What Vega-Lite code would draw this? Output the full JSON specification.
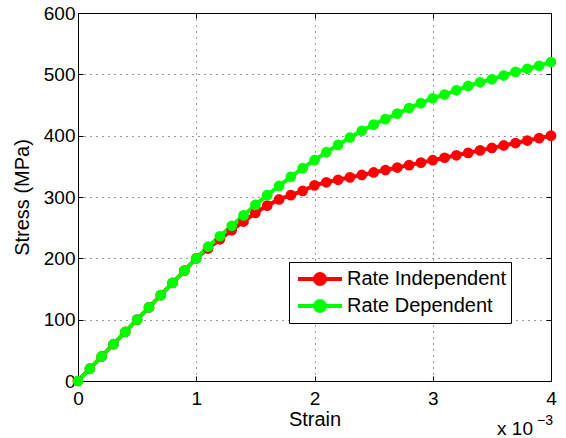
{
  "$schema": "https://vega.github.io/schema/vega-lite/v6.json",
  "width": 473,
  "height": 368,
  "autosize": {"type": "none"},
  "padding": {"left": 78, "top": 13, "right": 15, "bottom": 57},
  "background": "white",
  "config": {
    "font": "Liberation Sans",
    "view": {"stroke": null},
    "axis": {
      "domainColor": "black",
      "domainWidth": 1,
      "tickColor": "black",
      "tickSize": -5,
      "labelFontSize": 19,
      "labelColor": "black",
      "labelFlush": false,
      "titleFontSize": 20,
      "titleFontWeight": "normal",
      "titleColor": "black",
      "gridColor": "#333333",
      "gridDash": [1, 5],
      "gridOpacity": 1
    }
  },
  "data": {
    "values": [
      {"strain": 0.0, "stress": 0, "series": "Rate Independent"},
      {"strain": 0.1, "stress": 20, "series": "Rate Independent"},
      {"strain": 0.2, "stress": 40, "series": "Rate Independent"},
      {"strain": 0.3, "stress": 60, "series": "Rate Independent"},
      {"strain": 0.4, "stress": 80, "series": "Rate Independent"},
      {"strain": 0.5, "stress": 100, "series": "Rate Independent"},
      {"strain": 0.6, "stress": 120, "series": "Rate Independent"},
      {"strain": 0.7, "stress": 140, "series": "Rate Independent"},
      {"strain": 0.8, "stress": 160, "series": "Rate Independent"},
      {"strain": 0.9, "stress": 180, "series": "Rate Independent"},
      {"strain": 1.0, "stress": 200, "series": "Rate Independent"},
      {"strain": 1.1, "stress": 216, "series": "Rate Independent"},
      {"strain": 1.2, "stress": 231, "series": "Rate Independent"},
      {"strain": 1.3, "stress": 246, "series": "Rate Independent"},
      {"strain": 1.4, "stress": 260, "series": "Rate Independent"},
      {"strain": 1.5, "stress": 274, "series": "Rate Independent"},
      {"strain": 1.6, "stress": 286, "series": "Rate Independent"},
      {"strain": 1.7, "stress": 296, "series": "Rate Independent"},
      {"strain": 1.8, "stress": 303, "series": "Rate Independent"},
      {"strain": 1.9, "stress": 310, "series": "Rate Independent"},
      {"strain": 2.0, "stress": 319, "series": "Rate Independent"},
      {"strain": 2.1, "stress": 324, "series": "Rate Independent"},
      {"strain": 2.2, "stress": 328, "series": "Rate Independent"},
      {"strain": 2.3, "stress": 332, "series": "Rate Independent"},
      {"strain": 2.4, "stress": 336, "series": "Rate Independent"},
      {"strain": 2.5, "stress": 340, "series": "Rate Independent"},
      {"strain": 2.6, "stress": 344, "series": "Rate Independent"},
      {"strain": 2.7, "stress": 348, "series": "Rate Independent"},
      {"strain": 2.8, "stress": 352, "series": "Rate Independent"},
      {"strain": 2.9, "stress": 356, "series": "Rate Independent"},
      {"strain": 3.0, "stress": 360, "series": "Rate Independent"},
      {"strain": 3.1, "stress": 364, "series": "Rate Independent"},
      {"strain": 3.2, "stress": 368, "series": "Rate Independent"},
      {"strain": 3.3, "stress": 372, "series": "Rate Independent"},
      {"strain": 3.4, "stress": 376, "series": "Rate Independent"},
      {"strain": 3.5, "stress": 380, "series": "Rate Independent"},
      {"strain": 3.6, "stress": 384, "series": "Rate Independent"},
      {"strain": 3.7, "stress": 388, "series": "Rate Independent"},
      {"strain": 3.8, "stress": 392, "series": "Rate Independent"},
      {"strain": 3.9, "stress": 396, "series": "Rate Independent"},
      {"strain": 4.0, "stress": 400, "series": "Rate Independent"},
      {"strain": 0.0, "stress": 0, "series": "Rate Dependent"},
      {"strain": 0.1, "stress": 20, "series": "Rate Dependent"},
      {"strain": 0.2, "stress": 40, "series": "Rate Dependent"},
      {"strain": 0.3, "stress": 60, "series": "Rate Dependent"},
      {"strain": 0.4, "stress": 80, "series": "Rate Dependent"},
      {"strain": 0.5, "stress": 100, "series": "Rate Dependent"},
      {"strain": 0.6, "stress": 120, "series": "Rate Dependent"},
      {"strain": 0.7, "stress": 140, "series": "Rate Dependent"},
      {"strain": 0.8, "stress": 160, "series": "Rate Dependent"},
      {"strain": 0.9, "stress": 180, "series": "Rate Dependent"},
      {"strain": 1.0, "stress": 200, "series": "Rate Dependent"},
      {"strain": 1.1, "stress": 219, "series": "Rate Dependent"},
      {"strain": 1.2, "stress": 236, "series": "Rate Dependent"},
      {"strain": 1.3, "stress": 253, "series": "Rate Dependent"},
      {"strain": 1.4, "stress": 270, "series": "Rate Dependent"},
      {"strain": 1.5, "stress": 287, "series": "Rate Dependent"},
      {"strain": 1.6, "stress": 303, "series": "Rate Dependent"},
      {"strain": 1.7, "stress": 318, "series": "Rate Dependent"},
      {"strain": 1.8, "stress": 333, "series": "Rate Dependent"},
      {"strain": 1.9, "stress": 347, "series": "Rate Dependent"},
      {"strain": 2.0, "stress": 360, "series": "Rate Dependent"},
      {"strain": 2.1, "stress": 373, "series": "Rate Dependent"},
      {"strain": 2.2, "stress": 385, "series": "Rate Dependent"},
      {"strain": 2.3, "stress": 397, "series": "Rate Dependent"},
      {"strain": 2.4, "stress": 408, "series": "Rate Dependent"},
      {"strain": 2.5, "stress": 418, "series": "Rate Dependent"},
      {"strain": 2.6, "stress": 427, "series": "Rate Dependent"},
      {"strain": 2.7, "stress": 436, "series": "Rate Dependent"},
      {"strain": 2.8, "stress": 445, "series": "Rate Dependent"},
      {"strain": 2.9, "stress": 453, "series": "Rate Dependent"},
      {"strain": 3.0, "stress": 461, "series": "Rate Dependent"},
      {"strain": 3.1, "stress": 467, "series": "Rate Dependent"},
      {"strain": 3.2, "stress": 474, "series": "Rate Dependent"},
      {"strain": 3.3, "stress": 481, "series": "Rate Dependent"},
      {"strain": 3.4, "stress": 487, "series": "Rate Dependent"},
      {"strain": 3.5, "stress": 492, "series": "Rate Dependent"},
      {"strain": 3.6, "stress": 498, "series": "Rate Dependent"},
      {"strain": 3.7, "stress": 504, "series": "Rate Dependent"},
      {"strain": 3.8, "stress": 509, "series": "Rate Dependent"},
      {"strain": 3.9, "stress": 514, "series": "Rate Dependent"},
      {"strain": 4.0, "stress": 520, "series": "Rate Dependent"}
    ]
  },
  "layer": [
    {
      "mark": {"type": "line", "strokeWidth": 4, "point": {"filled": true, "size": 115, "opacity": 1}},
      "encoding": {
        "x": {
          "field": "strain", "type": "quantitative",
          "scale": {"domain": [0, 4], "nice": false, "zero": false},
          "axis": {"values": [0, 1, 2, 3, 4], "format": "d", "title": "Strain", "grid": true, "labelPadding": 13, "titlePadding": 1}
        },
        "y": {
          "field": "stress", "type": "quantitative",
          "scale": {"domain": [0, 600], "nice": false},
          "axis": {"values": [0, 100, 200, 300, 400, 500, 600], "title": "Stress (MPa)", "grid": true, "labelPadding": 8, "titlePadding": 11}
        },
        "color": {
          "field": "series", "type": "nominal",
          "scale": {"domain": ["Rate Independent", "Rate Dependent"], "range": ["#ff0000", "#00ff00"]},
          "legend": {
            "orient": "none",
            "legendX": 211,
            "legendY": 249,
            "title": null,
            "symbolType": "M-2,0L2,0M0.45,0A0.45,0.45,0,1,1,-0.45,0A0.45,0.45,0,1,1,0.45,0",
            "symbolSize": 484,
            "symbolStrokeWidth": 4,
            "symbolOffset": 14,
            "labelOffset": 14,
            "padding": 4,
            "rowPadding": 1,
            "strokeColor": "black",
            "fillColor": "white",
            "labelFontSize": 20,
            "labelColor": "black",
            "encode": {
              "symbols": {"update": {"fill": {"scale": "color", "field": "value"}, "stroke": {"scale": "color", "field": "value"}, "opacity": {"value": 1}}}
            }
          }
        }
      }
    },
    {
      "mark": {"type": "point", "opacity": 0},
      "encoding": {
        "x": {"field": "strain", "type": "quantitative", "axis": {"orient": "top", "values": [0, 1, 2, 3, 4], "labels": false, "title": null, "grid": false}},
        "y": {"field": "stress", "type": "quantitative", "axis": {"orient": "right", "values": [0, 100, 200, 300, 400, 500, 600], "labels": false, "title": null, "grid": false}}
      }
    },
    {
      "data": {"values": [{"label": "x 10"}]},
      "mark": {"type": "text", "align": "right", "baseline": "alphabetic", "fontSize": 19, "dx": -18, "dy": 54, "color": "black"},
      "encoding": {
        "x": {"datum": 4, "type": "quantitative", "axis": null},
        "y": {"datum": 0, "type": "quantitative", "axis": null},
        "text": {"field": "label"}
      }
    },
    {
      "data": {"values": [{"label": "−3"}]},
      "mark": {"type": "text", "align": "right", "baseline": "alphabetic", "fontSize": 14, "dx": 2, "dy": 44, "color": "black"},
      "encoding": {
        "x": {"datum": 4, "type": "quantitative", "axis": null},
        "y": {"datum": 0, "type": "quantitative", "axis": null},
        "text": {"field": "label"}
      }
    }
  ],
  "resolve": {"axis": {"x": "independent", "y": "independent"}}
}
